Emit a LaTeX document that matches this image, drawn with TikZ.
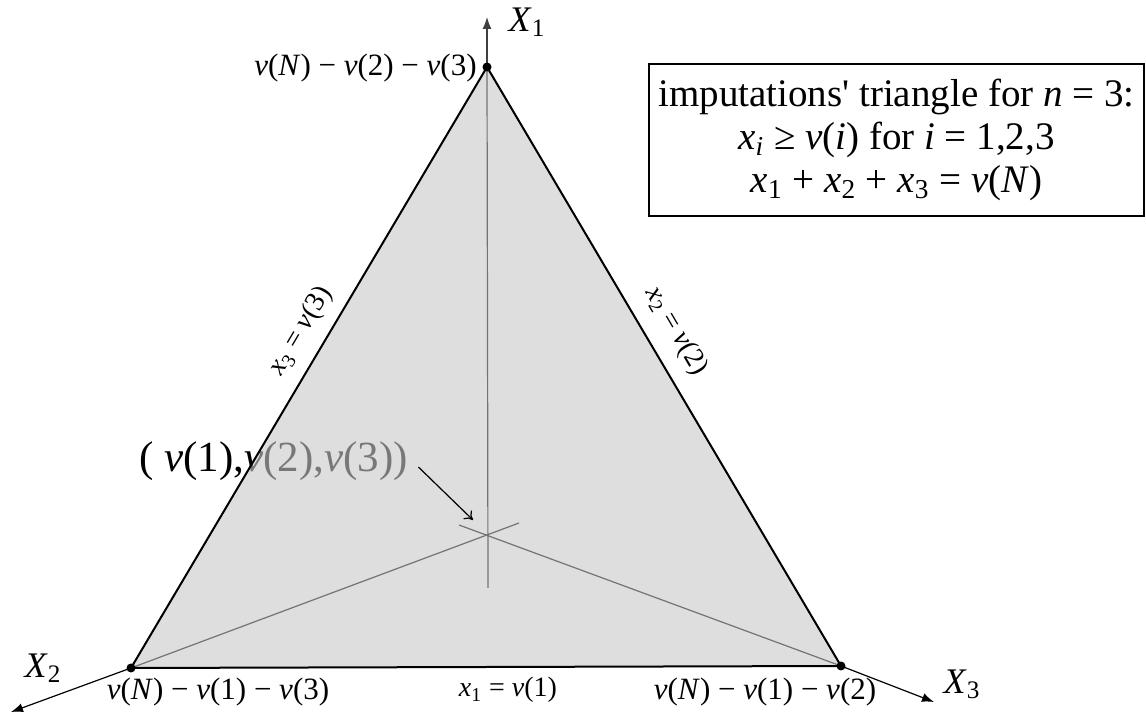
\documentclass[tikz,border=0pt]{standalone}
\usepackage{fontspec}
\setmainfont{Liberation Serif}
\usetikzlibrary{arrows.meta}
\newcommand{\vv}[1]{\textit{v}(#1)}
\newcommand{\xs}[2]{\textit{#1}\textsubscript{#2}}
\begin{document}
\begin{tikzpicture}[x=0.5pt,y=-0.5pt,
  edge/.style={black, line width=1pt},
  inner/.style={black!55, line width=0.6pt},
  axis/.style={line width=0.6pt, -{Latex[length=6pt,width=4.5pt]}},
  vlbl/.style={font=\fontsize{15.5}{18}\selectfont, inner sep=1pt},
  elbl/.style={font=\fontsize{14}{16}\selectfont, inner sep=1pt},
  xlbl/.style={font=\fontsize{18}{20}\selectfont, inner sep=1pt},
  biglbl/.style={font=\fontsize{21.5}{24}\selectfont, inner sep=1pt},
  boxstyle/.style={draw, line width=0.6pt, align=center, font=\fontsize{19.5}{21.5}\selectfont,
    minimum width=247.5pt, minimum height=76pt, inner sep=0pt}]
\useasboundingbox (0,0) rectangle (1146,715);
% vertices
\coordinate (A) at (487,67);
\coordinate (B) at (131,668);
\coordinate (C) at (841,666);
\coordinate (O) at (488,535);
\coordinate (Oa) at (488,588);
\coordinate (Ob) at (519,523);
\coordinate (Oc) at (459,525);
\coordinate (E1) at (487,17);
\coordinate (E2) at (11,712);
\coordinate (E3) at (934,702);
% label under the translucent fill
\node[biglbl, anchor=west] (P) at (137,461) {( \vv{1},\vv{2},\vv{3})};
\coordinate (Ptip) at (473,520);
% fill
\fill[black!21.5, fill opacity=0.6] (A) -- (B) -- (C) -- cycle;
% inner lines
\draw[inner] (Oa) -- (A);
\draw[inner] (B) -- (Ob);
\draw[inner] (C) -- (Oc);
% edges
\draw[edge, line join=round] (A) -- (B) -- (C) -- cycle;
% axes
\draw[axis, black!75] (A) -- (E1);
\draw[axis] (B) -- (E2);
\draw[axis] (C) -- (E3);
% dots
\fill (A) circle (4.5);
\fill (B) circle (4.5);
\fill (C) circle (4.5);
% pointer arrow
\coordinate (Ps) at ([shift={(4pt,-3pt)}]P.east);
\draw[line width=0.6pt, -{To[length=4pt,width=6pt]}] (Ps) -- (Ptip);
% vertex labels
\node[vlbl, anchor=east] (lA) at (479,68) {\vv{\textit{N}} − \vv{2} − \vv{3}};
\node[vlbl] (lB) at (218,692) {\vv{\textit{N}} − \vv{1} − \vv{3}};
\node[vlbl] (lC) at (765,692) {\vv{\textit{N}} − \vv{1} − \vv{2}};
% axis labels
\node[xlbl] (X1) at (527,22) {\xs{X}{1}};
\node[xlbl] (X2) at (43,668) {\xs{X}{2}};
\node[xlbl] (X3) at (962,684) {\xs{X}{3}};
% edge labels
\node[elbl] (e1) at (508,690) {\xs{x}{1} = \vv{1}};
\node[elbl, rotate=59.4] (e3) at (301,331) {\xs{x}{3} = \vv{3}};
\node[elbl, rotate=-59.6] (e2) at (676,331) {\xs{x}{2} = \vv{2}};
% box
\node[boxstyle] (box) at (896.5,140) {imputations\textquotesingle{} triangle for \textit{n} = 3:\\
  \xs{x}{\textit{i}} ≥ \vv{\textit{i}} for \textit{i} = 1,2,3\\
  \xs{x}{1} + \xs{x}{2} + \xs{x}{3} = \vv{\textit{N}}};
\end{tikzpicture}
\end{document}
